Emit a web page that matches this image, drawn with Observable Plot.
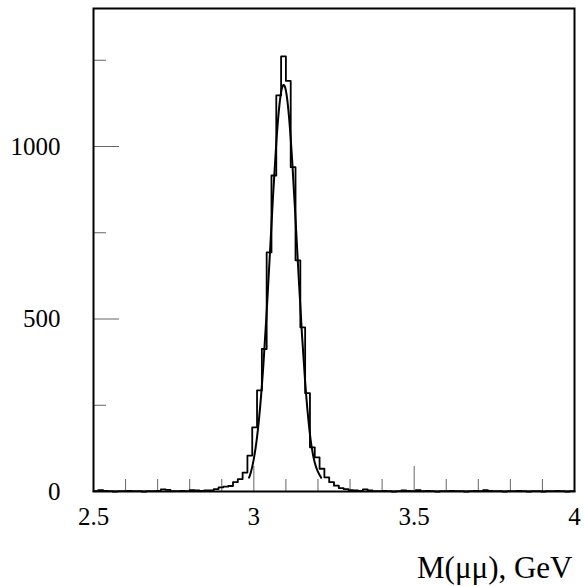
<!DOCTYPE html>
<html><head><meta charset="utf-8">
<script src="https://cdn.jsdelivr.net/npm/d3@7"></script>
<script src="https://cdn.jsdelivr.net/npm/@observablehq/plot@0.6"></script>
<style>body{margin:0;background:#fff}</style>
</head><body><div id="chart"></div>
<script>
// Histogram: 100 bins from 2.5 to 4.0 GeV
const histRange = [2.5, 4.0];
const counts = [
  1, 4, 2, 1, 0, 1, 1, 2, 1, 1,
  0, 1, 1, 2, 6, 5, 1, 1, 2, 1,
  4, 3, 2, 3, 3, 7, 12, 14, 16, 27,
  36, 55, 104, 186, 293, 413, 693, 916, 1148, 1261,
  1190, 940, 670, 476, 285, 128, 99, 66, 41, 27,
  17, 10, 7, 4, 3, 2, 6, 3, 1, 1,
  2, 1, 0, 1, 3, 2, 1, 4, 1, 2,
  1, 0, 1, 1, 2, 1, 1, 0, 1, 2,
  1, 4, 2, 1, 1, 0, 1, 1, 2, 1,
  0, 1, 1, 0, 1, 1, 2, 1, 0, 1
];
// Fit curve points
const fitMass   = [2.985, 2.99, 3.00, 3.01, 3.02, 3.03, 3.04, 3.05, 3.06, 3.07, 3.08, 3.09, 3.10, 3.11, 3.12, 3.13, 3.14, 3.15, 3.16, 3.17, 3.18, 3.19, 3.20, 3.21];
const fitCounts = [40, 51, 91, 153, 244, 365, 516, 687, 861, 1017, 1132, 1187, 1173, 1092, 958, 792, 617, 453, 313, 204, 125, 80, 55, 40];

const xMajor = [2.5, 3, 3.5, 4];
const xMinor = [2.6, 2.7, 2.8, 2.9, 3.1, 3.2, 3.3, 3.4, 3.6, 3.7, 3.8, 3.9];
const xTickLabels = ["2.5", "3", "3.5", "4"];
const yMajor = [0, 500, 1000];
const yMinor = [250, 750, 1250];
const yTickLabels = ["0", "500", "1000"];
const xTitle = "M(\u03bc\u03bc), GeV";

const nb = counts.length;
const bw = (histRange[1] - histRange[0]) / nb;
const steps = counts.map((c, i) => ({x: histRange[0] + i * bw, y: c}));
steps.push({x: histRange[1], y: counts[nb - 1]});
const fit = fitMass.map((m, i) => ({x: m, y: fitCounts[i]}));

const font = "'Liberation Serif', 'Times New Roman', serif";
const chart = Plot.plot({
  width: 584, height: 586,
  marginLeft: 93, marginRight: 10, marginTop: 8, marginBottom: 95,
  style: {fontFamily: font, color: "black", background: "white"},
  x: {domain: histRange},
  y: {domain: [0, 1400]},
  marks: [
    Plot.axisX(xMinor, {tickSize: -12, tickFormat: () => "", stroke: "#666", label: null}),
    Plot.axisX(xMajor, {tickSize: -25, tickFormat: () => "", stroke: "#666", label: null}),
    Plot.axisX(xMajor, {tickSize: 0, tickPadding: 16, fontSize: 25, tickFormat: (d, i) => xTickLabels[i], label: null}),
    Plot.axisY(yMinor, {tickSize: -13, tickFormat: () => "", stroke: "#666", label: null}),
    Plot.axisY(yMajor, {tickSize: -26, tickFormat: () => "", stroke: "#666", label: null}),
    Plot.axisY(yMajor, {tickSize: 0, tickPadding: 33, fontSize: 25, tickFormat: (d, i) => yTickLabels[i], label: null}),
    Plot.line(steps, {x: "x", y: "y", curve: "step-after", stroke: "black", strokeWidth: 1.8}),
    Plot.line(fit, {x: "x", y: "y", curve: "basis", stroke: "black", strokeWidth: 2}),
    Plot.frame({stroke: "black", strokeWidth: 2}),
    Plot.text([xTitle], {frameAnchor: "bottom-right", textAnchor: "end", lineAnchor: "bottom", dx: -2, dy: 86, fontSize: 31, fill: "black"})
  ]
});
document.getElementById("chart").appendChild(chart);
</script>
</body></html>
